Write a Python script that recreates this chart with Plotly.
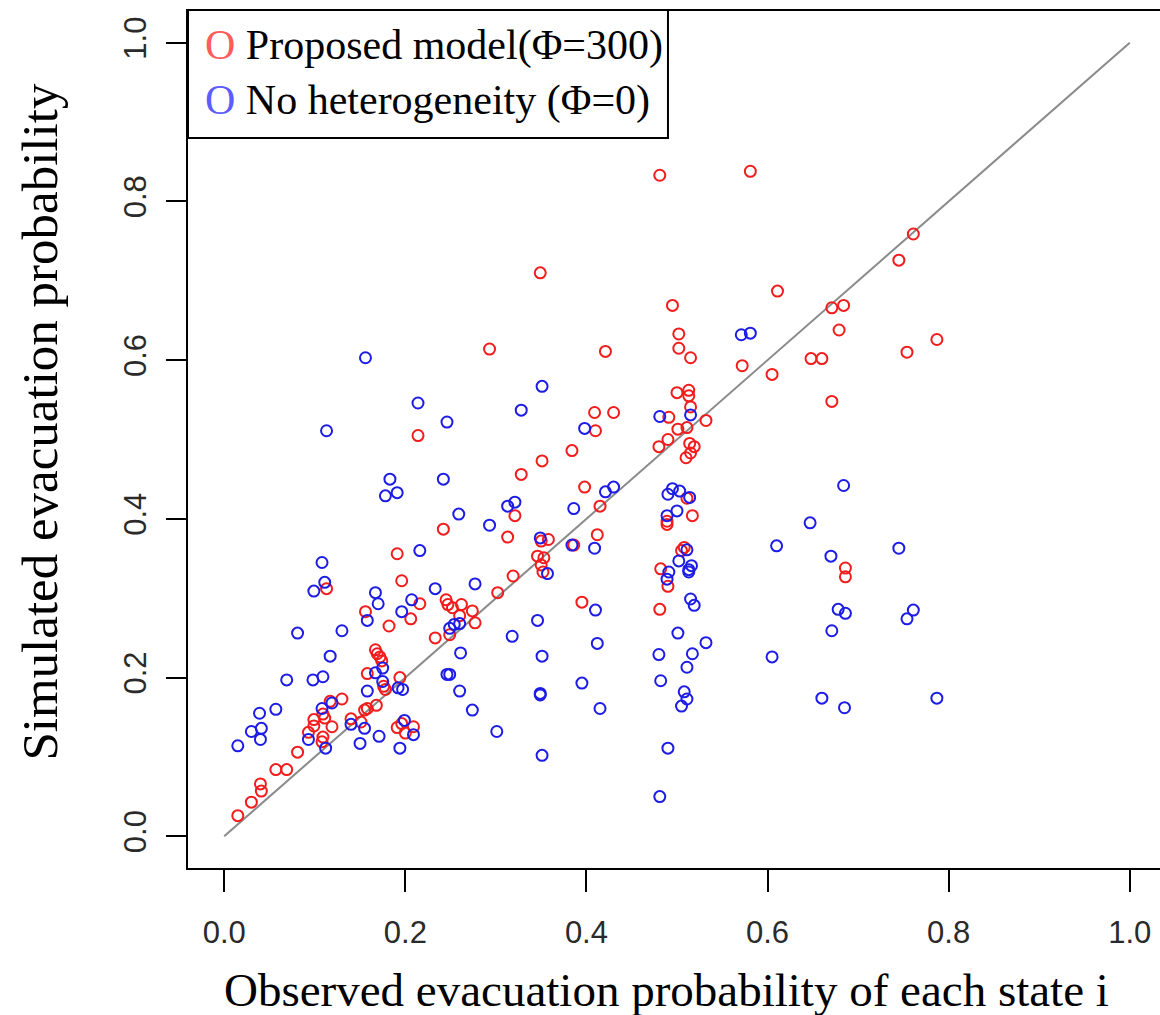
import plotly.graph_objects as go

# Observed vs simulated evacuation probability per state
obs_proposed = [
    0.481, 0.581, 0.761, 0.745, 0.611, 0.495, 0.671, 0.684, 0.679, 0.787,
    0.754, 0.648, 0.660, 0.671, 0.349, 0.293, 0.421, 0.502, 0.502, 0.515,
    0.572, 0.605, 0.500, 0.513, 0.513, 0.515, 0.409, 0.430, 0.410, 0.491,
    0.501, 0.511, 0.532, 0.490, 0.480, 0.514, 0.519, 0.515, 0.510, 0.384,
    0.351, 0.328, 0.398, 0.415, 0.321, 0.511, 0.517, 0.489, 0.489, 0.313,
    0.412, 0.358, 0.350, 0.386, 0.346, 0.353, 0.350, 0.352, 0.319, 0.302,
    0.395, 0.481, 0.508, 0.505, 0.482, 0.490, 0.686, 0.686, 0.214, 0.242,
    0.191, 0.196, 0.113, 0.156, 0.182, 0.206, 0.216, 0.245, 0.247, 0.252,
    0.262, 0.260, 0.274, 0.277, 0.249, 0.233, 0.167, 0.169, 0.172, 0.174,
    0.158, 0.194, 0.176, 0.178, 0.130, 0.117, 0.155, 0.158, 0.168, 0.093,
    0.099, 0.099, 0.109, 0.111, 0.119, 0.109, 0.108, 0.140, 0.151, 0.191,
    0.196, 0.200, 0.209, 0.081, 0.057, 0.069, 0.040, 0.041, 0.030, 0.015,
]
sim_proposed = [
    0.833, 0.838, 0.759, 0.726, 0.687, 0.669, 0.666, 0.669, 0.638, 0.626,
    0.610, 0.602, 0.602, 0.548, 0.710, 0.614, 0.611, 0.633, 0.615, 0.603,
    0.593, 0.582, 0.559, 0.562, 0.555, 0.541, 0.534, 0.534, 0.511, 0.528,
    0.513, 0.515, 0.524, 0.500, 0.491, 0.495, 0.491, 0.483, 0.477, 0.486,
    0.473, 0.456, 0.440, 0.416, 0.404, 0.426, 0.404, 0.397, 0.393, 0.377,
    0.380, 0.374, 0.372, 0.367, 0.353, 0.351, 0.342, 0.333, 0.328, 0.307,
    0.295, 0.286, 0.364, 0.360, 0.337, 0.315, 0.338, 0.327, 0.505, 0.387,
    0.356, 0.322, 0.312, 0.283, 0.265, 0.274, 0.293, 0.298, 0.292, 0.288,
    0.292, 0.278, 0.284, 0.269, 0.254, 0.250, 0.235, 0.230, 0.226, 0.221,
    0.205, 0.200, 0.189, 0.185, 0.173, 0.170, 0.159, 0.161, 0.165, 0.131,
    0.147, 0.139, 0.154, 0.149, 0.138, 0.125, 0.119, 0.148, 0.144, 0.137,
    0.142, 0.130, 0.138, 0.106, 0.084, 0.084, 0.066, 0.057, 0.043, 0.026,
]

obs_no_het = [
    0.571, 0.581, 0.351, 0.328, 0.398, 0.481, 0.515, 0.430, 0.421, 0.386,
    0.313, 0.321, 0.293, 0.495, 0.503, 0.490, 0.514, 0.500, 0.489, 0.349,
    0.384, 0.409, 0.357, 0.511, 0.502, 0.516, 0.513, 0.513, 0.491, 0.489,
    0.610, 0.515, 0.519, 0.410, 0.346, 0.277, 0.318, 0.412, 0.351, 0.501,
    0.532, 0.517, 0.480, 0.511, 0.605, 0.395, 0.482, 0.349, 0.349, 0.508,
    0.511, 0.505, 0.415, 0.301, 0.351, 0.490, 0.481, 0.684, 0.647, 0.670,
    0.745, 0.678, 0.686, 0.671, 0.761, 0.754, 0.660, 0.685, 0.787, 0.156,
    0.214, 0.246, 0.113, 0.183, 0.178, 0.191, 0.242, 0.259, 0.216, 0.108,
    0.111, 0.099, 0.167, 0.170, 0.207, 0.233, 0.196, 0.158, 0.081, 0.130,
    0.249, 0.254, 0.260, 0.117, 0.261, 0.175, 0.167, 0.175, 0.069, 0.098,
    0.109, 0.246, 0.249, 0.158, 0.192, 0.197, 0.260, 0.274, 0.057, 0.039,
    0.108, 0.119, 0.030, 0.041, 0.040, 0.015, 0.093, 0.140, 0.155, 0.171,
    0.150, 0.112, 0.194, 0.199, 0.209,
]
sim_no_het = [
    0.632, 0.634, 0.567, 0.537, 0.514, 0.529, 0.531, 0.440, 0.434, 0.413,
    0.416, 0.421, 0.392, 0.438, 0.435, 0.431, 0.427, 0.410, 0.404, 0.376,
    0.367, 0.363, 0.331, 0.361, 0.347, 0.341, 0.336, 0.333, 0.333, 0.324,
    0.366, 0.299, 0.291, 0.285, 0.272, 0.318, 0.252, 0.243, 0.227, 0.256,
    0.244, 0.230, 0.229, 0.213, 0.226, 0.193, 0.196, 0.180, 0.178, 0.182,
    0.173, 0.164, 0.161, 0.132, 0.102, 0.111, 0.050, 0.442, 0.395, 0.353,
    0.363, 0.286, 0.281, 0.259, 0.285, 0.274, 0.174, 0.162, 0.174, 0.603,
    0.546, 0.522, 0.511, 0.450, 0.429, 0.433, 0.450, 0.406, 0.360, 0.345,
    0.320, 0.309, 0.307, 0.293, 0.298, 0.312, 0.283, 0.272, 0.256, 0.259,
    0.262, 0.267, 0.268, 0.227, 0.231, 0.212, 0.206, 0.195, 0.197, 0.197,
    0.201, 0.204, 0.204, 0.183, 0.187, 0.185, 0.183, 0.159, 0.160, 0.155,
    0.161, 0.168, 0.132, 0.136, 0.122, 0.114, 0.122, 0.141, 0.136, 0.126,
    0.117, 0.111, 0.111, 0.146, 0.128,
]

tick_vals = [0.0, 0.2, 0.4, 0.6, 0.8, 1.0]
tick_text = ["0.0", "0.2", "0.4", "0.6", "0.8", "1.0"]

legend_proposed = "Proposed model(Φ=300)"
legend_no_het = "No heterogeneity (Φ=0)"
x_title = "Observed evacuation probability of each state i"
y_title = "Simulated evacuation probability"

SERIF = "Liberation Serif, Times New Roman, serif"
SANS = "Liberation Sans, Arial, sans-serif"

fig = go.Figure()

# 45-degree reference line
fig.add_trace(go.Scatter(
    x=[0, 1], y=[0, 1], mode="lines",
    line=dict(color="#8a8a8a", width=2), hoverinfo="skip", showlegend=False,
))

fig.add_trace(go.Scatter(
    x=obs_proposed, y=sim_proposed, mode="markers", name=legend_proposed,
    marker=dict(symbol="circle-open", size=11, color="#f21c1c",
                line=dict(width=2, color="#f21c1c")),
    showlegend=False,
))
fig.add_trace(go.Scatter(
    x=obs_no_het, y=sim_no_het, mode="markers", name=legend_no_het,
    marker=dict(symbol="circle-open", size=11, color="#1c1ce6",
                line=dict(width=2, color="#1c1ce6")),
    showlegend=False,
))

axis_common = dict(
    tickvals=tick_vals, ticktext=tick_text,
    ticks="outside", tickwidth=2, tickcolor="black",
    showline=True, linecolor="black", linewidth=2,
    showgrid=False, zeroline=False,
    tickfont=dict(family=SANS, size=31, color="#2a2a2a"),
)

fig.update_layout(
    width=1160, height=1015,
    margin=dict(l=188, r=0, t=11, b=147),
    paper_bgcolor="white", plot_bgcolor="white",
    xaxis=dict(range=[-0.04, 1.0334], ticklen=22, mirror=True,
               ticklabelstandoff=14, **axis_common),
    yaxis=dict(range=[-0.04, 1.04], ticklen=20, tickangle=-90,
               ticklabelstandoff=8, **axis_common),
    showlegend=False,
)

# Axis titles
fig.add_annotation(
    text=x_title, xref="paper", yref="paper", x=0.492, y=-0.142,
    xanchor="center", yanchor="middle", showarrow=False,
    font=dict(family=SERIF, size=47, color="black"),
)
fig.add_annotation(
    text=y_title, xref="paper", yref="paper", x=-0.152, y=0.52,
    xanchor="center", yanchor="middle", textangle=-90, showarrow=False,
    font=dict(family=SERIF, size=51, color="black"),
)

# Legend box drawn as a framed panel with coloured "O" keys
fig.add_shape(
    type="rect", xref="paper", yref="paper",
    x0=0.0, x1=0.4938, y0=0.8518, y1=1.0012,
    line=dict(color="black", width=2), fillcolor="white", layer="above",
)
for ypos, key_color, label in [
    (0.9603, "#ff5c5c", legend_proposed),
    (0.8961, "#5c5cff", legend_no_het),
]:
    fig.add_annotation(
        text=f'<span style="color:{key_color}">O</span> {label}',
        xref="paper", yref="paper", x=0.0154, y=ypos,
        xanchor="left", yanchor="middle", showarrow=False,
        font=dict(family=SERIF, size=42, color="black"),
    )

fig.write_html("out.html")
